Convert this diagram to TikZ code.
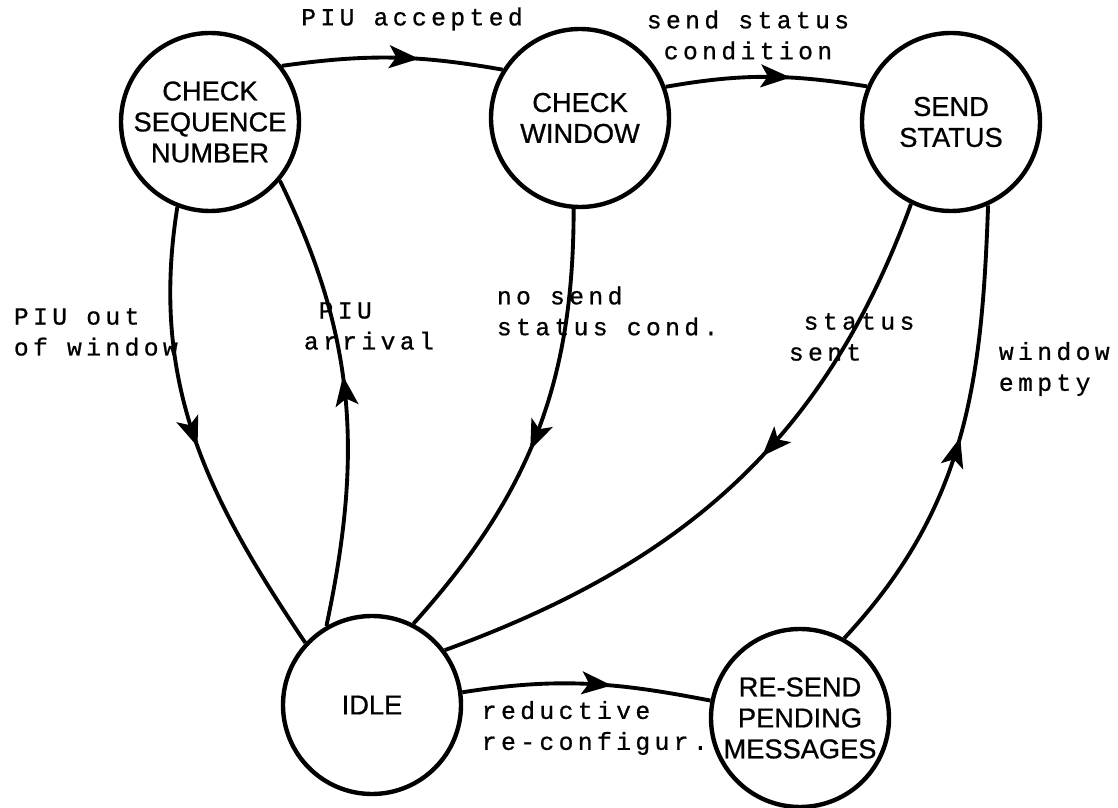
\documentclass[tikz,border=0pt]{standalone}
\usepackage{fontspec}
\newfontfamily\statefont[FakeBold=0.8]{Liberation Sans}
\newfontfamily\labelfont[LetterSpace=18,FakeBold=0.8]{Liberation Mono}
\usetikzlibrary{arrows.meta}
\usetikzlibrary{decorations.markings}

\begin{document}
\begin{tikzpicture}[line width=2.2pt,
      state/.style={circle,draw,line width=2.5pt,minimum size=3.56cm,inner sep=0pt,
        align=center,font=\statefont\fontsize{15.5}{17.6}\selectfont},
      lbl/.style={inner sep=0pt,font=\labelfont\fontsize{14}{17.6}\selectfont},
      midarrow/.style={postaction={decorate},decoration={markings,
        mark=at position #1 with {\arrow{Stealth[length=17pt,width=13pt,inset=4pt]}}}}]
    \useasboundingbox (0,0) rectangle (22.36,16.16);
    % states
    \node[state] (CSN)  at (4.20,13.72) {CHECK\\SEQUENCE\\NUMBER};
    \node[state] (CW)   at (11.60,13.80) {CHECK\\WINDOW};
    \node[state] (SS)   at (19.02,13.72) {SEND\\STATUS};
    \node[state] (IDLE) at (7.44,2.06) {IDLE};
    \node[state] (RS)   at (16.00,1.80) {RE-SEND\\PENDING\\MESSAGES};
    % transitions
    \path
         (CSN.38)   edge [midarrow=0.62, out=8, in=170] (CW.148)
         (CW.20)    edge [midarrow=0.62, out=10, in=171] (SS.157)
         (CSN.249)  edge [midarrow=0.52, out=261, in=124] (IDLE.137)
         (IDLE.120) edge [midarrow=0.55, out=78, in=296] (CSN.320)
         (CW.266)   edge [midarrow=0.54, out=270, in=48] (IDLE.63)
         (SS.244)   edge [midarrow=0.44, out=250, in=20] (IDLE.37)
         (RS.61)    edge [midarrow=0.5, out=47, in=268] (SS.294)
         (IDLE.8)   edge [midarrow=0.6, out=9, in=169] (RS.169);
    % labels
    \node[lbl] (accepted) at (8.24,15.78) {PIU accepted};
    \node[lbl,align=center] (cond) at (14.96,15.46) {send status\\condition};
    \node[lbl,align=left,anchor=west] (outwin) at (0.24,9.52) {PIU out\\of window};
    \node[lbl,align=left,anchor=west] (arrival) at (6.04,9.64) {\phantom{a}PIU\\arrival};
    \node[lbl,align=left,anchor=west] (nosend) at (9.90,9.94) {no send\\status cond.};
    \node[lbl,align=left,anchor=west] (sent) at (15.74,9.42) {\phantom{s}status\\sent};
    \node[lbl,align=left,anchor=west] (empty) at (19.94,8.78) {window\\empty};
    \node[lbl,align=left,anchor=west] (reconf) at (9.60,1.60) {reductive\\re-configur.};
\end{tikzpicture}
\end{document}
